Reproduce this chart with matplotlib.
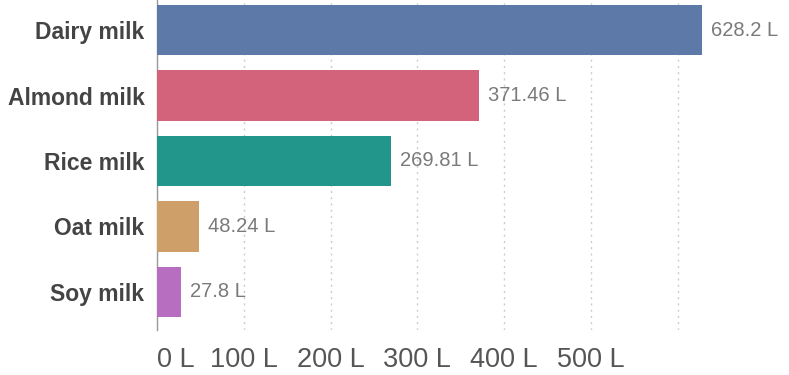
import matplotlib.pyplot as plt

plt.rcParams['font.family'] = ['Liberation Sans', 'DejaVu Sans']

# milk volumes in litres
drinks = ['Dairy milk', 'Almond milk', 'Rice milk', 'Oat milk', 'Soy milk']
litres = [628.2, 371.46, 269.81, 48.24, 27.8]
value_labels = ['628.2 L', '371.46 L', '269.81 L', '48.24 L', '27.8 L']
bar_colors = ['#5d79a8', '#d2637b', '#22968a', '#cf9f6a', '#b86ec0']
grid_ticks = [0, 100, 200, 300, 400, 500, 600]
tick_labels = ['0 L', '100 L', '200 L', '300 L', '400 L', '500 L', '']

W, H = 789, 375
fig = plt.figure(figsize=(W / 100, H / 100), dpi=100)
ax_left, ax_right = 157, 782
ax_top, ax_bottom = 0, 330
ax = fig.add_axes([ax_left / W, 1 - ax_bottom / H,
                   (ax_right - ax_left) / W, (ax_bottom - ax_top) / H])

pos = list(range(len(drinks)))
ax.barh(pos, litres, height=0.77, color=bar_colors, zorder=3)
ax.set_ylim(len(drinks) - 1 + 0.585, -0.46)
ax.set_xlim(0, 720)

for y, v, lab in zip(pos, litres, value_labels):
    ax.text(v + 10, y, lab, va='center', ha='left', fontsize=14.5, color='#7a7a7a')

ax.set_yticks(pos)
ax.set_yticklabels(drinks, fontsize=16.5, fontweight='bold', color='#444444')
ax.set_xticks(grid_ticks)
ax.set_xticklabels(tick_labels, fontsize=19.5, color='#555555')
ax.get_xticklabels()[0].set_horizontalalignment('left')
ax.tick_params(axis='y', length=0, pad=9)
ax.tick_params(axis='x', length=0, pad=12)

ax.grid(axis='x', linestyle=(0, (1.5, 3)), color='#cccccc', linewidth=1, zorder=0)
for side in ['top', 'right', 'bottom']:
    ax.spines[side].set_visible(False)
ax.spines['left'].set_color('#999999')
ax.spines['left'].set_linewidth(1)

fig.savefig('out.png', dpi=100)
